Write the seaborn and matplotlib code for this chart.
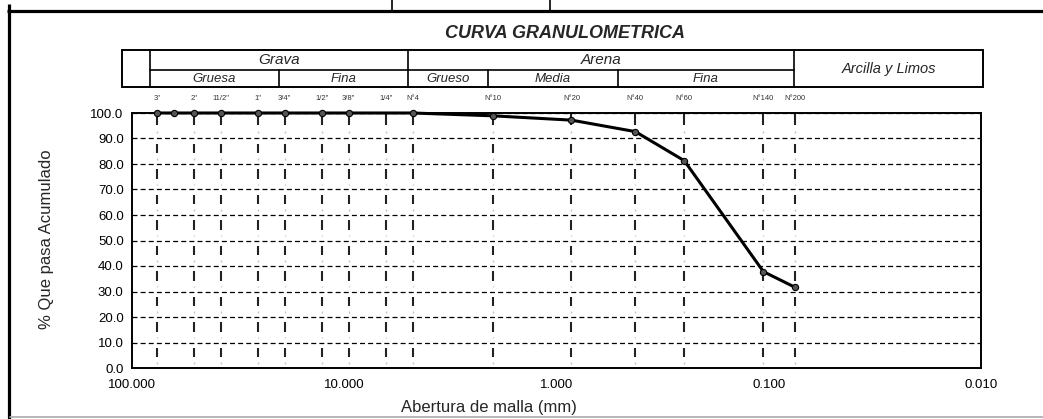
import matplotlib
matplotlib.use("Agg")
import matplotlib.pyplot as plt
import matplotlib.ticker as mticker
import pandas as pd
import seaborn as sns

# tamices (etiqueta y abertura en mm)
sieve_labels = ['3"', '2"', '11/2"', '1"', '3/4"', '1/2"', '3/8"', '1/4"',
                'N°4', 'N°10', 'N°20', 'N°40', 'N°60', 'N°140', 'N°200']
sieve_mm = [76.2, 50.8, 38.1, 25.4, 19.05, 12.7, 9.525, 6.35,
            4.75, 2.0, 0.85, 0.425, 0.25, 0.106, 0.075]

# resultados del ensayo
test_mm = [76.2, 63.5, 50.8, 38.1, 25.4, 19.05, 12.7, 9.525,
           4.75, 2.0, 0.85, 0.425, 0.25, 0.106, 0.075]
pct_passing = [100.0, 100.0, 100.0, 100.0, 100.0, 100.0, 100.0, 100.0,
               100.0, 98.9, 97.2, 92.7, 81.3, 37.8, 31.6]

x_ticks = [100, 10, 1, 0.1, 0.01]
y_ticks = [0, 10, 20, 30, 40, 50, 60, 70, 80, 90, 100]

title = "CURVA GRANULOMETRICA"
x_title = "Abertura de malla (mm)"
y_title = "% Que pasa Acumulado"

W, H = 1043, 419

sns.set_style("white")
plt.rcParams["font.family"] = ["Liberation Sans", "DejaVu Sans"]

fig = plt.figure(figsize=(W / 100, H / 100), dpi=100)

# --- grafico principal ---
ax = fig.add_axes([132 / W, (H - 368) / H, (981 - 132) / W, (368 - 113) / H])
ax.patch.set_alpha(0)

df = pd.DataFrame({"mm": test_mm, "pasa": pct_passing})
sns.lineplot(data=df, x="mm", y="pasa", ax=ax, sort=False, estimator=None,
             color="black", lw=2.2, marker="o", markersize=4.5,
             markerfacecolor="#555555", markeredgecolor="black",
             markeredgewidth=0.8, clip_on=False, zorder=5)

ax.set_xscale("log")
ax.set_xlim(100, 0.01)
ax.set_ylim(0, 100)
ax.set_xlabel("")
ax.set_ylabel("")

ax.xaxis.set_major_locator(mticker.FixedLocator(x_ticks))
ax.xaxis.set_major_formatter(mticker.FuncFormatter(lambda v, p: f"{v:.3f}"))
ax.xaxis.set_minor_locator(mticker.LogLocator(base=10, subs=range(2, 10), numticks=20))
ax.xaxis.set_minor_formatter(mticker.NullFormatter())
ax.yaxis.set_major_locator(mticker.FixedLocator(y_ticks))
ax.yaxis.set_major_formatter(mticker.FormatStrFormatter("%.1f"))
ax.yaxis.set_minor_locator(mticker.MultipleLocator(2.5))

ax.tick_params(which="major", direction="inout", length=6, width=1.1,
               labelsize=9.5, colors="black", pad=3)
ax.tick_params(which="minor", direction="in", length=3, width=0.9)
ax.tick_params(axis="x", which="major", pad=5)

for s in ax.spines.values():
    s.set_linewidth(1.4)
    s.set_color("black")

# lineas horizontales discontinuas
ax.grid(axis="y", which="major", color="black", ls=(0, (4, 2.5)), lw=0.9)
ax.grid(axis="x", visible=False)

# lineas verticales en cada tamiz
for y0 in range(0, 90, 10):
    ax.vlines(sieve_mm, y0 + 4.2, y0 + 8.0, color="#222222", lw=1.5, zorder=2)
    ax.vlines(sieve_mm, y0 + 1.6, y0 + 2.3, color="#c0c0c0", lw=1.0, zorder=2)
ax.vlines(sieve_mm, 95.3, 100, color="#222222", lw=1.5, zorder=2)
ax.vlines(sieve_mm, 92.3, 93.0, color="#c0c0c0", lw=1.0, zorder=2)

for lab, mm in zip(sieve_labels, sieve_mm):
    ax.text(mm, 105.5, lab, ha="center", va="center", fontsize=5.5,
            color="#333333", clip_on=False)

# --- marco, titulo y tabla de clasificacion ---
ov = fig.add_axes([0, 0, 1, 1], zorder=-1)
ov.set_xlim(0, W)
ov.set_ylim(H, 0)
ov.axis("off")

ov.plot([8.5, 8.5], [4, H], color="black", lw=2.3, solid_capstyle="butt")
ov.plot([7, W], [11, 11], color="black", lw=2.3, solid_capstyle="butt")
ov.plot([392, 392], [0, 11], color="black", lw=1.2)
ov.plot([550, 550], [0, 11], color="black", lw=1.2)
ov.plot([10, W], [417, 417], color="#aaaaaa", lw=1.2)

ov.text(565, 34, title, ha="center", va="center", fontsize=13,
        fontweight="bold", fontstyle="italic")

t_left, t_right, t_top, t_mid, t_bot = 122, 983, 50, 70, 87
ov.add_patch(plt.Rectangle((t_left, t_top), t_right - t_left, t_bot - t_top,
                           fill=False, ec="black", lw=1.4))
for xv in [150, 408, 794]:
    ov.plot([xv, xv], [t_top, t_bot], color="black", lw=1.2)
ov.plot([150, 794], [t_mid, t_mid], color="black", lw=1.2)
for xv in [279, 488, 618]:
    ov.plot([xv, xv], [t_mid, t_bot], color="black", lw=1.2)

row1 = [("Grava", 150, 408), ("Arena", 408, 794)]
row2 = [("Gruesa", 150, 279), ("Fina", 279, 408), ("Grueso", 408, 488),
        ("Media", 488, 618), ("Fina", 618, 794)]
for txt, a, b in row1:
    ov.text((a + b) / 2, (t_top + t_mid) / 2, txt, ha="center", va="center",
            fontsize=11, fontstyle="italic")
for txt, a, b in row2:
    ov.text((a + b) / 2, (t_mid + t_bot) / 2 + 0.5, txt, ha="center", va="center",
            fontsize=9.5, fontstyle="italic")
ov.text((794 + t_right) / 2, (t_top + t_bot) / 2, "Arcilla y Limos", ha="center",
        va="center", fontsize=10.5, fontstyle="italic")

fig.text(47 / W, 1 - 239 / H, y_title, rotation=90, ha="center", va="center",
         fontsize=12)
fig.text(489 / W, 1 - 407 / H, x_title, ha="center", va="center", fontsize=12)

fig.savefig("out.png", dpi=100)
